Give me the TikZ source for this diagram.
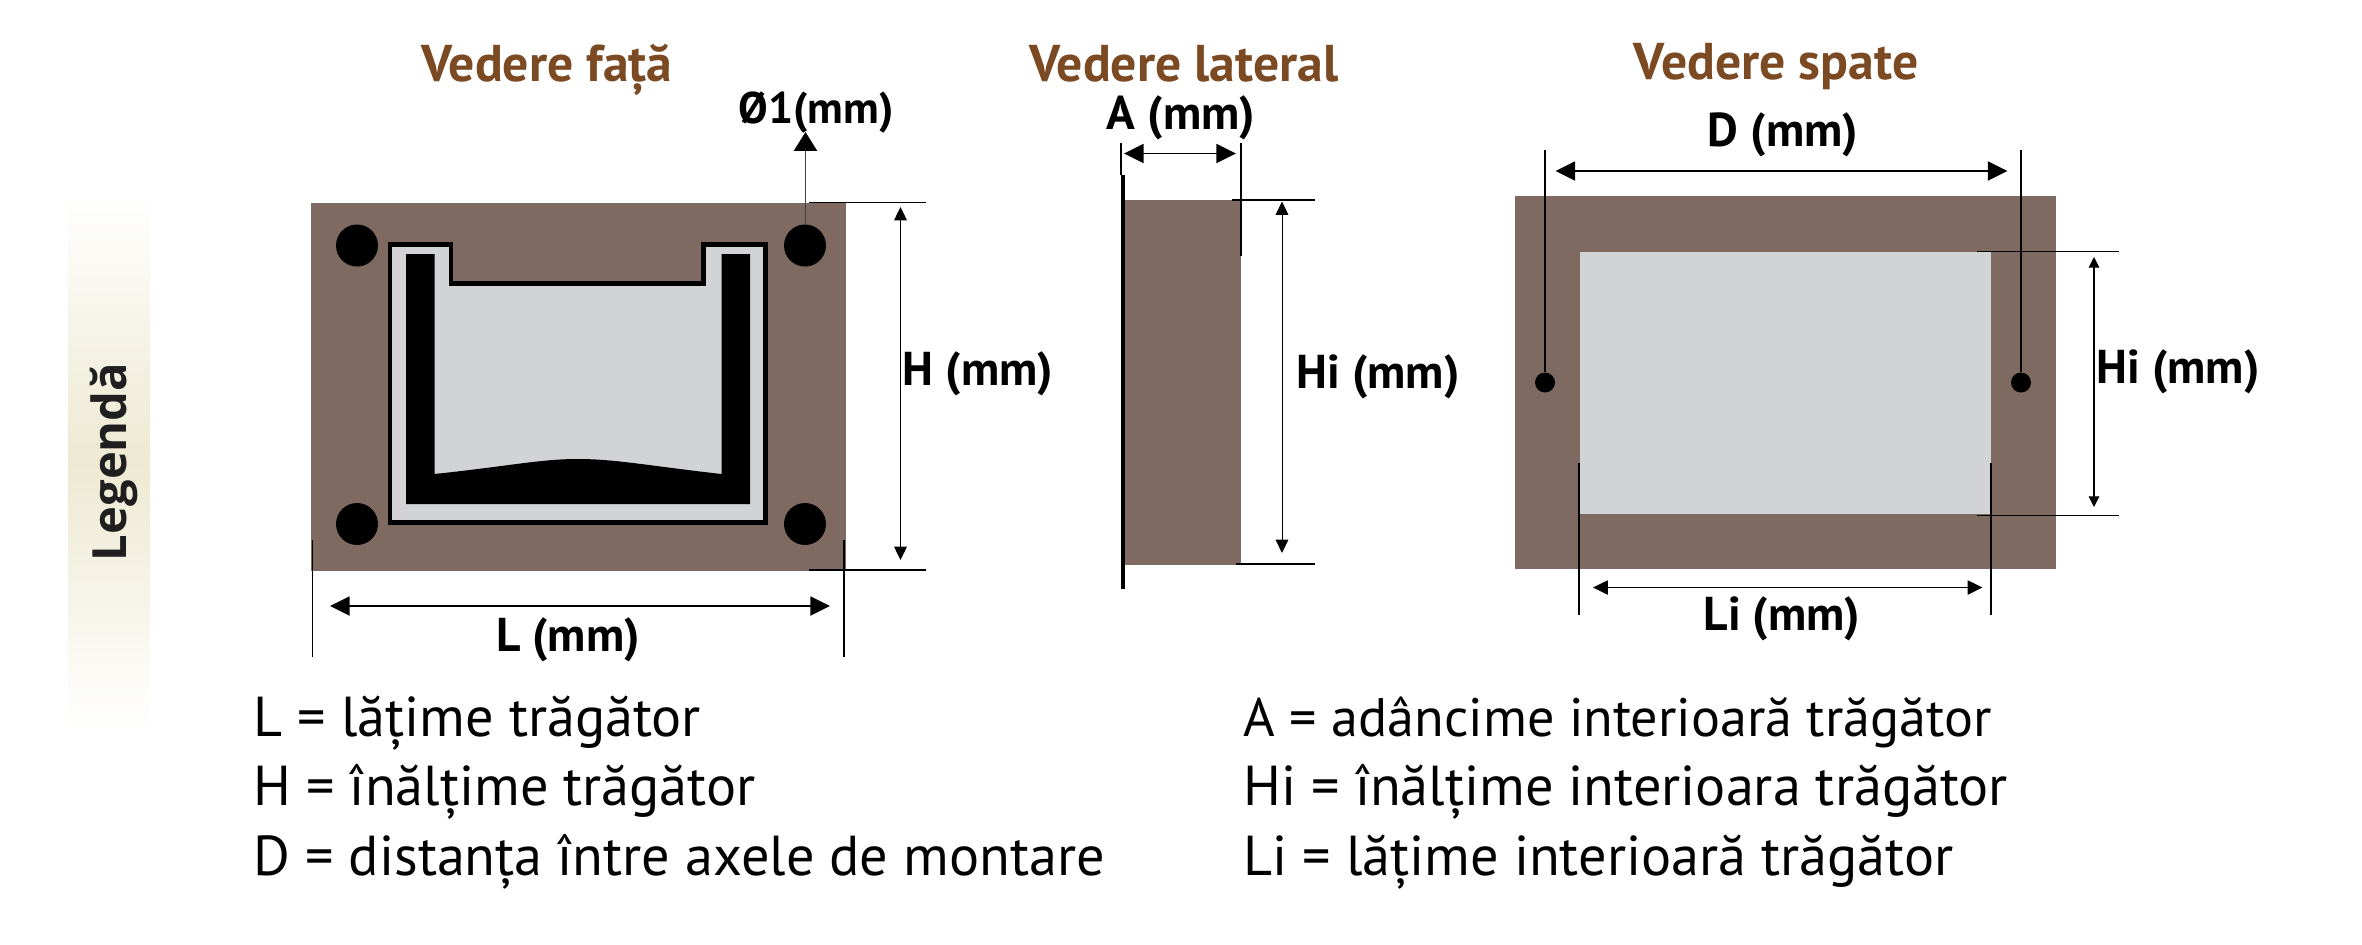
\documentclass[tikz,border=0pt]{standalone}
\usepackage{fontspec}
\setmainfont{PT Sans}
\newfontfamily\legendfont{Open Sans}
\usetikzlibrary{arrows.meta}

\definecolor{woodbrown}{HTML}{7F6A61}
\definecolor{traygrey}{HTML}{D1D3D4}
\definecolor{titlebrown}{HTML}{7B4A23}
\definecolor{bandcream}{HTML}{EDE9D2}

\tikzset{
  title/.style={font=\fontsize{14.7pt}{17pt}\selectfont\bfseries, text=titlebrown, inner sep=0pt},
  dimlabel/.style={font=\fontsize{13.5pt}{16pt}\selectfont\bfseries, inner sep=0pt},
  legendline/.style={font=\fontsize{16pt}{19pt}\selectfont, anchor=base west, inner sep=0pt},
  extline/.style={line width=0.45pt},
  bigdim/.style={line width=0.55pt, {Triangle[length=5.6pt,width=5.4pt]}-{Triangle[length=5.6pt,width=5.4pt]}},
  smalldim/.style={line width=0.3pt, {Triangle[length=3.8pt,width=3.6pt]}-{Triangle[length=3.8pt,width=3.6pt]}},
}

\begin{document}
\begin{tikzpicture}[x=0.01cm,y=-0.01cm]
    \useasboundingbox (0,0) rectangle (2362,945);

    % legend band
    \shade[top color=white, bottom color=white, middle color=bandcream] (68,194) rectangle (150,730);
    \node[rotate=90, font=\legendfont\fontsize{13.4pt}{16pt}\selectfont\bfseries, text=black!88, inner sep=0pt] (legend) at (114,462) {Legendă};

    % titles
    \node[title] (front) at (547,70) {Vedere față};
    \node[title] (side) at (1184,64) {Vedere lateral};
    \node[title] (back) at (1776,67) {Vedere spate};

    % front view
    \fill[woodbrown] (311,202.5) rectangle (846,570.5);
    \foreach \px/\py in {357/245.5, 805/245.5, 357/524, 805/524}
        \fill[black] (\px,\py) circle[radius=21];
    \draw[line width=1.42pt, fill=traygrey, miter limit=10] (390,522.3) -- (390,244) -- (451,244) -- (451,283.6) -- (703.5,283.6) -- (703.5,244) -- (765,244) -- (765,522.3) -- cycle;
    \fill[black] (406,254) -- (434.5,254) -- (434.5,474) .. controls (510,466) and (540,459) .. (578,459) .. controls (616,459) and (650,466) .. (721.5,474) -- (721.5,254) -- (750,254) -- (750,504) -- (406,504) -- cycle;

    % front view dimensions
    \coordinate (holetop) at (805.5,225);
    \coordinate (holetip) at (805.5,132);
    \draw[line width=0.5pt, black!75, -{Triangle[length=5.4pt,width=6.6pt,black]}] (holetop) -- (holetip);
    \node[dimlabel, font=\fontsize{12.6pt}{15pt}\selectfont\bfseries] (dia) at (816,113) {Ø1(mm)};

    \coordinate (ht1) at (809,202.5);
    \coordinate (ht2) at (926,202.5);
    \coordinate (hb1) at (809,570);
    \coordinate (hb2) at (926,570);
    \draw[extline] (ht1) -- (ht2);
    \draw[extline] (hb1) -- (hb2);
    \coordinate (ha) at (900.5,207);
    \coordinate (hc) at (900.5,560);
    \draw[smalldim, line width=0.4pt] (ha) -- (hc);
    \node[dimlabel] (hlabel) at (978,374) {H (mm)};

    \coordinate (ll1) at (312.5,540);
    \coordinate (ll2) at (312.5,657);
    \coordinate (lr1) at (844,540);
    \coordinate (lr2) at (844,657);
    \draw[extline] (ll1) -- (ll2);
    \draw[extline] (lr1) -- (lr2);
    \coordinate (la) at (330,606);
    \coordinate (lc) at (830,606);
    \draw[bigdim] (la) -- (lc);
    \node[dimlabel] (llabel) at (568,640) {L (mm)};

    % side view
    \fill[woodbrown] (1123,199.5) rectangle (1241,565);
    \coordinate (bar1) at (1123,175);
    \coordinate (bar2) at (1123,589);
    \draw[line width=1.1pt] (bar1) -- (bar2);
    \coordinate (ae1) at (1121,143);
    \coordinate (ae2) at (1121,175);
    \coordinate (ae3) at (1241,143);
    \coordinate (ae4) at (1241,256);
    \draw[extline, line width=0.3pt] (ae1) -- (ae2);
    \draw[extline] (ae3) -- (ae4);
    \coordinate (aa) at (1124,153.5);
    \coordinate (ac) at (1236,153.5);
    \draw[bigdim] (aa) -- (ac);
    \node[dimlabel] (alabel) at (1181,118) {A (mm)};

    \coordinate (st1) at (1232,200);
    \coordinate (st2) at (1315,200);
    \coordinate (sb1) at (1236,564);
    \coordinate (sb2) at (1315,564);
    \draw[extline] (st1) -- (st2);
    \draw[extline] (sb1) -- (sb2);
    \coordinate (sa) at (1282,201.5);
    \coordinate (sc) at (1282,553);
    \draw[smalldim, line width=0.25pt] (sa) -- (sc);
    \node[dimlabel] (silabel) at (1378,377) {Hi (mm)};

    % back view
    \fill[woodbrown] (1515,196) rectangle (2055.5,569);
    \fill[traygrey] (1579.5,252) rectangle (1991,513.5);
    \node[circle, fill=black, minimum size=0.2cm, inner sep=0pt] (dotl) at (1545,382.5) {};
    \node[circle, fill=black, minimum size=0.2cm, inner sep=0pt] (dotr) at (2021,382.5) {};
    \coordinate (dl) at (1545,150);
    \coordinate (dr) at (2021,150);
    \draw[extline] (dotl) -- (dl);
    \draw[extline] (dotr) -- (dr);
    \coordinate (da) at (1555.5,171);
    \coordinate (dc) at (2007.5,171);
    \draw[bigdim] (da) -- (dc);
    \node[dimlabel] (dlabel) at (1783,135) {D (mm)};

    \coordinate (bt1) at (1977,251.5);
    \coordinate (bt2) at (2119,251.5);
    \coordinate (bb1) at (1977,515.5);
    \coordinate (bb2) at (2119,515.5);
    \draw[extline] (bt1) -- (bt2);
    \draw[extline] (bb1) -- (bb2);
    \coordinate (ba) at (2094,257);
    \coordinate (bc) at (2094,507);
    \draw[smalldim, {Triangle[length=3pt,width=3pt]}-{Triangle[length=3pt,width=3pt]}] (ba) -- (bc);
    \node[dimlabel] (bilabel) at (2178,372) {Hi (mm)};

    \coordinate (li1) at (1579,463);
    \coordinate (li2) at (1579,615);
    \coordinate (li3) at (1991,463);
    \coordinate (li4) at (1991,615);
    \draw[extline] (li1) -- (li2);
    \draw[extline] (li3) -- (li4);
    \coordinate (ia) at (1593,587.5);
    \coordinate (ic) at (1982.5,587.5);
    \draw[smalldim, line width=0.45pt, {Triangle[length=4.2pt,width=4pt]}-{Triangle[length=4.2pt,width=4pt]}] (ia) -- (ic);
    \node[dimlabel] (lilabel) at (1782,619) {Li (mm)};

    % legend text
    \node[legendline] (txtL) at (253,736) {L = lățime trăgător};
    \node[legendline] (txtH) at (253,805) {H = înălțime trăgător};
    \node[legendline] (txtD) at (253,875) {D = distanța între axele de montare};
    \node[legendline, font=\fontsize{15.4pt}{19pt}\selectfont] (txtA) at (1243,736) {A = adâncime interioară trăgător};
    \node[legendline] (txtHi) at (1243,805) {Hi = înălțime interioara trăgător};
    \node[legendline] (txtLi) at (1243,875) {Li = lățime interioară trăgător};
\end{tikzpicture}
\end{document}
